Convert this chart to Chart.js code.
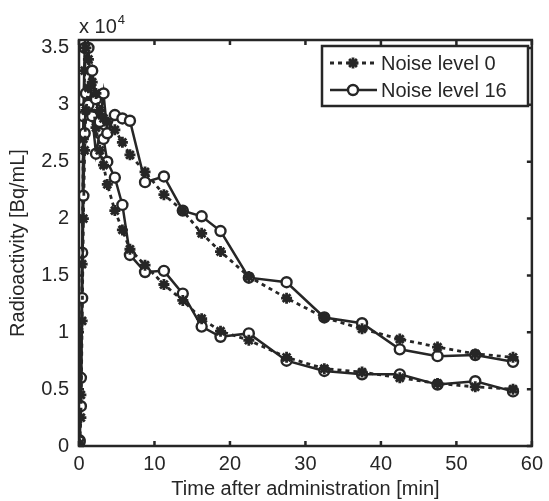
<!DOCTYPE html>
<html>
<head>
<meta charset="utf-8">
<script src="https://cdn.jsdelivr.net/npm/chart.js@4.4.1/dist/chart.umd.min.js"></script>
<style>
  html, body { margin: 0; padding: 0; background: #fff; }
  #wrap { width: 549px; height: 501px; }
</style>
</head>
<body>
<div id="wrap"><canvas id="tac" width="549" height="501"></canvas></div>
<script>
// frame mid times [min]
const frameTimes = [0.08, 0.25, 0.42, 0.58, 0.75, 0.92, 1.25, 1.75, 2.25, 2.75, 3.25, 3.75,
  4.75, 5.75, 6.75, 8.75, 11.25, 13.75, 16.25, 18.75, 22.5, 27.5, 32.5, 37.5, 42.5, 47.5, 52.5, 57.5];

// activity in units of 10^4 Bq/mL
const upperNoise0 = [0.02, 0.25, 1.1, 2.0, 2.6, 2.95, 3.15, 3.2, 3.1, 2.95, 2.88, 2.85,
  2.78, 2.67, 2.56, 2.41, 2.21, 2.07, 1.87, 1.71, 1.49, 1.30, 1.13, 1.03, 0.94, 0.87, 0.81, 0.78];
const upperNoise16 = [0.04, 0.35, 1.3, 2.2, 2.75, 3.1, 3.0, 3.3, 3.05, 2.85, 3.1, 2.75,
  2.91, 2.88, 2.86, 2.32, 2.37, 2.07, 2.02, 1.89, 1.48, 1.44, 1.13, 1.08, 0.85, 0.79, 0.80, 0.74];
const lowerNoise0 = [0.03, 0.45, 1.6, 2.7, 3.3, 3.5, 3.4, 3.05, 2.8, 2.6, 2.47, 2.3,
  2.07, 1.9, 1.73, 1.59, 1.42, 1.28, 1.12, 1.01, 0.93, 0.78, 0.68, 0.65, 0.60, 0.55, 0.52, 0.50];
const lowerNoise16 = [0.05, 0.6, 1.7, 2.9, 3.5, 3.75, 3.5, 2.9, 2.57, 2.75, 2.7, 2.5,
  2.36, 2.12, 1.68, 1.53, 1.54, 1.34, 1.05, 0.96, 0.99, 0.75, 0.66, 0.63, 0.63, 0.54, 0.57, 0.48];

const xTicks = [0, 10, 20, 30, 40, 50, 60];
const yTicks = [0, 0.5, 1, 1.5, 2, 2.5, 3, 3.5];
const legendLabels = ['Noise level 0', 'Noise level 16'];

const ink = '#262626';
const fontFamily = '"Liberation Sans", Arial, sans-serif';

function pts(vals) {
  return frameTimes.map((t, i) => ({ x: t, y: vals[i] }));
}

const dottedStyle = {
  borderColor: ink, borderWidth: 2.8, borderDash: [4, 4],
  pointStyle: 'star', pointRadius: 5.5, pointBorderWidth: 2.8,
  pointBorderColor: ink, pointBackgroundColor: ink
};
const solidStyle = {
  borderColor: ink, borderWidth: 2.5,
  pointStyle: 'circle', pointRadius: 5, pointBorderWidth: 2.4,
  pointBorderColor: ink, pointBackgroundColor: '#fff'
};

// box, inward ticks on all four sides, exponent label
const frameTicks = {
  id: 'frameTicks',
  afterDraw(chart) {
    const { ctx, chartArea: a, scales: { x, y } } = chart;
    ctx.save();
    ctx.strokeStyle = ink;
    ctx.lineWidth = 2.5;
    ctx.strokeRect(a.left, a.top, a.right - a.left, a.bottom - a.top);
    ctx.beginPath();
    xTicks.forEach(v => {
      const px = x.getPixelForValue(v);
      ctx.moveTo(px, a.bottom); ctx.lineTo(px, a.bottom - 5);
      ctx.moveTo(px, a.top); ctx.lineTo(px, a.top + 5);
    });
    yTicks.forEach(v => {
      const py = y.getPixelForValue(v);
      ctx.moveTo(a.left, py); ctx.lineTo(a.left + 5, py);
      ctx.moveTo(a.right, py); ctx.lineTo(a.right - 5, py);
    });
    ctx.stroke();

    ctx.fillStyle = ink;
    ctx.textBaseline = 'alphabetic';
    ctx.textAlign = 'left';
    ctx.font = '20px ' + fontFamily;
    ctx.fillText('x 10', 79, 33);
    const w = ctx.measureText('x 10').width;
    ctx.font = '13px ' + fontFamily;
    ctx.fillText('4', 79 + w + 1, 24);
    ctx.restore();
  }
};

// legend box inside the axes, top right
const boxLegend = {
  id: 'boxLegend',
  afterDraw(chart) {
    const { ctx } = chart;
    const left = 322, top = 46, right = 528, bottom = 106;
    ctx.save();
    ctx.fillStyle = '#fff';
    ctx.fillRect(left, top, right - left, bottom - top);
    ctx.strokeStyle = ink;
    ctx.lineWidth = 2.5;
    ctx.strokeRect(left, top, right - left, bottom - top);

    const rows = [
      { label: legendLabels[0], ds: chart.data.datasets[0], y: 63 },
      { label: legendLabels[1], ds: chart.data.datasets[1], y: 90 }
    ];
    rows.forEach(r => {
      ctx.strokeStyle = ink;
      ctx.lineWidth = r.ds.borderWidth;
      ctx.setLineDash(r.ds.borderDash || []);
      ctx.beginPath();
      ctx.moveTo(330, r.y); ctx.lineTo(377, r.y);
      ctx.stroke();
      ctx.setLineDash([]);
      ctx.fillStyle = r.ds.pointBackgroundColor;
      ctx.strokeStyle = r.ds.pointBorderColor;
      ctx.lineWidth = r.ds.pointBorderWidth;
      Chart.helpers.drawPoint(ctx, {
        pointStyle: r.ds.pointStyle, radius: r.ds.pointRadius,
        borderWidth: r.ds.pointBorderWidth, rotation: 0
      }, 353, r.y);
      ctx.fillStyle = ink;
      ctx.font = '20px ' + fontFamily;
      ctx.textBaseline = 'middle';
      ctx.textAlign = 'left';
      ctx.fillText(r.label, 381, r.y + 1);
    });
    ctx.restore();
  }
};

Chart.defaults.font.family = fontFamily;
Chart.defaults.font.size = 20;
Chart.defaults.color = ink;

new Chart(document.getElementById('tac'), {
  type: 'line',
  data: {
    datasets: [
      Object.assign({ label: legendLabels[0], data: pts(upperNoise0) }, dottedStyle),
      Object.assign({ label: legendLabels[1], data: pts(upperNoise16) }, solidStyle),
      Object.assign({ label: legendLabels[0], data: pts(lowerNoise0) }, dottedStyle),
      Object.assign({ label: legendLabels[1], data: pts(lowerNoise16) }, solidStyle)
    ]
  },
  options: {
    responsive: false,
    animation: false,
    layout: { padding: { left: 0, top: 40, right: 16, bottom: 0 } },
    plugins: {
      legend: { display: false },
      tooltip: { enabled: false }
    },
    scales: {
      x: {
        type: 'linear',
        min: 0, max: 60,
        grid: { display: false, drawTicks: false },
        border: { display: false },
        afterBuildTicks: s => { s.ticks = xTicks.map(v => ({ value: v })); },
        afterFit: s => { s.height = 55; },
        ticks: { padding: 6, maxRotation: 0, color: ink },
        title: {
          display: true, text: 'Time after administration [min]',
          padding: { top: 0, bottom: 0 }, color: ink
        }
      },
      y: {
        type: 'linear',
        min: 0, max: 3.57,
        grid: { display: false, drawTicks: false },
        border: { display: false },
        afterBuildTicks: s => { s.ticks = yTicks.map(v => ({ value: v })); },
        afterFit: s => { s.width = 79; },
        ticks: { padding: 10, color: ink, callback: v => String(v) },
        title: {
          display: true, text: 'Radioactivity [Bq/mL]',
          padding: { top: 6, bottom: 0 }, color: ink
        }
      }
    }
  },
  plugins: [frameTicks, boxLegend]
});
</script>
</body>
</html>
